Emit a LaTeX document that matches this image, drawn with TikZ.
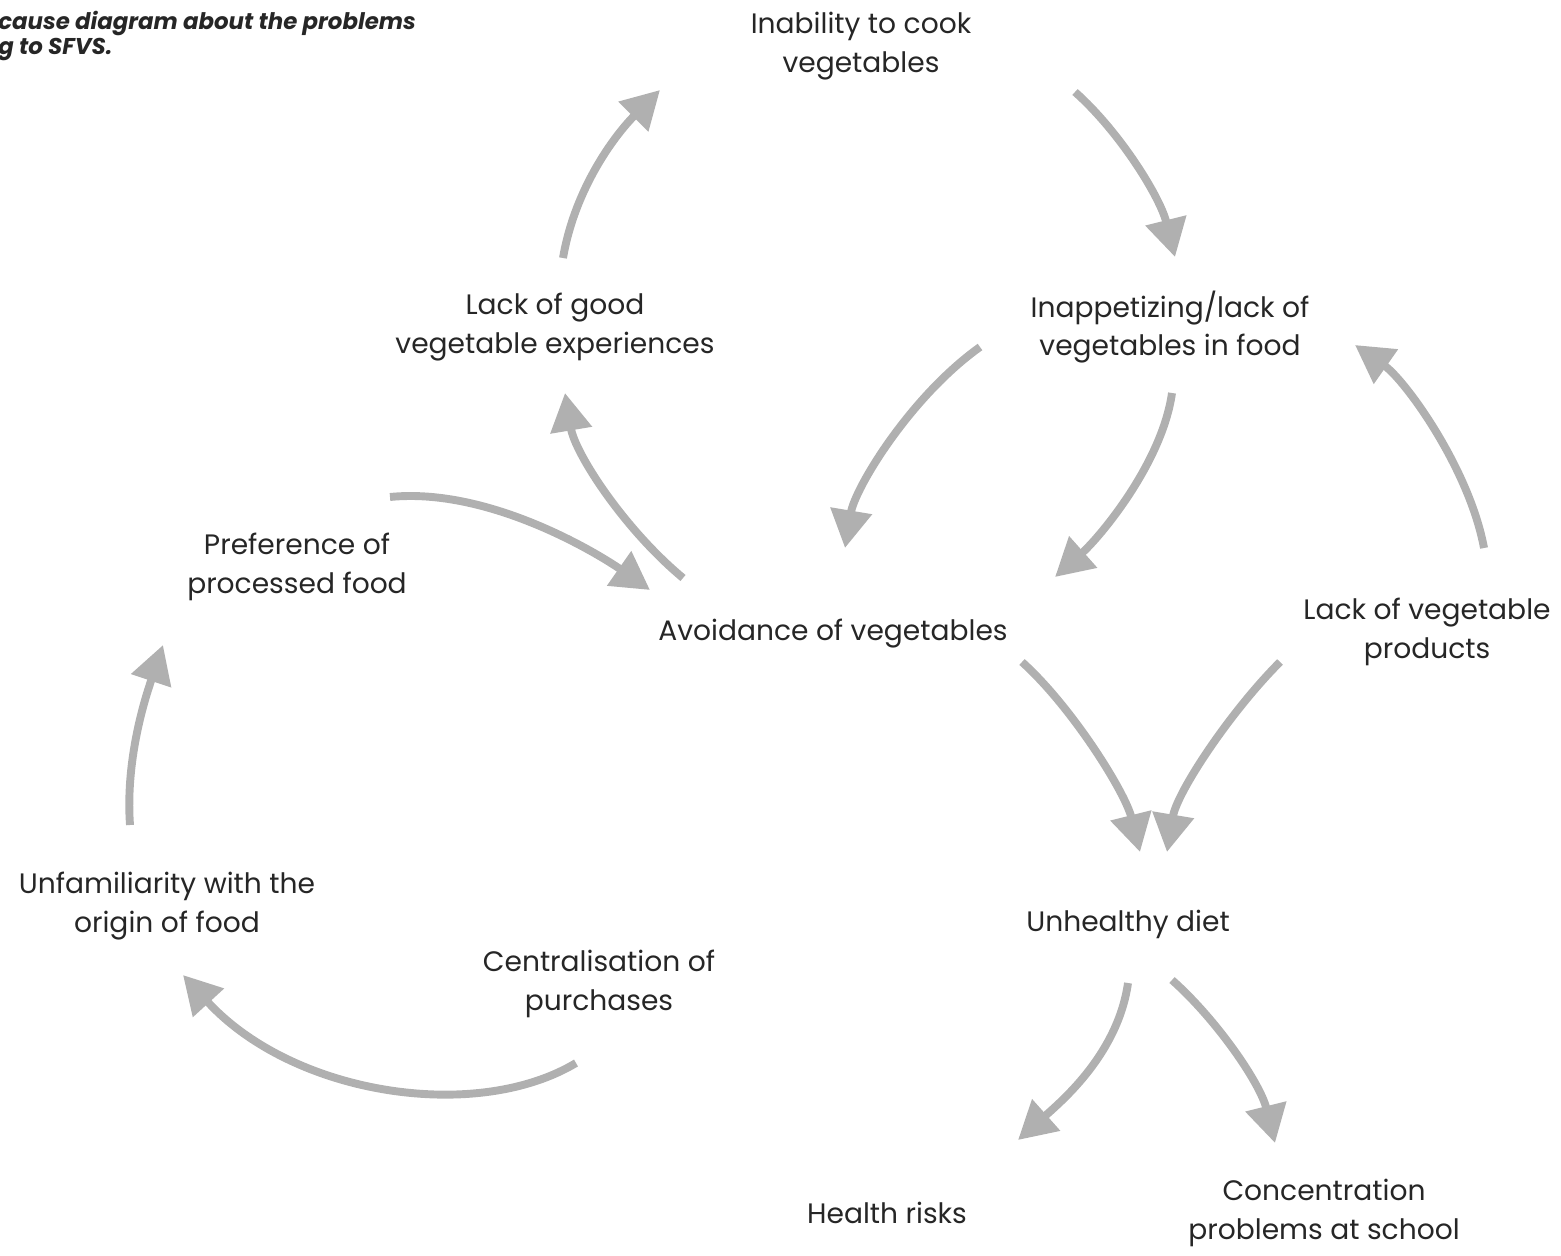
\documentclass[tikz,border=0pt]{standalone}
\usepackage{fontspec}
\setmainfont{Poppins}
\usetikzlibrary{arrows.meta}
\definecolor{arrowgray}{HTML}{B0B0B0}
\definecolor{textgray}{HTML}{262626}
\tikzset{
  cause box/.style={align=center, inner sep=0pt, text=textgray, font=\fontsize{16}{21.8}\selectfont},
  title text/.style={align=left, inner sep=0pt, anchor=west, text=textgray, font=\fontsize{13}{12.5}\selectfont\bfseries\itshape},
  cause arrow/.style={line width=4.5pt, arrowgray, -{Triangle[length=21.5pt,width=23pt]}},
}

\begin{document}
\begin{tikzpicture}[x=0.02cm, y=-0.02cm]
  \useasboundingbox (0,0) rectangle (1561,1256);
  \node[title text] (title) at (-2,36) {cause diagram about the problems\\g to SFVS.};
  \node[cause box] (inability) at (861,46) {Inability to cook\\vegetables};
  \node[cause box] (lackgood) at (555,327) {Lack of good\\vegetable experiences};
  \node[cause box] (inapp) at (1170,327) {Inappetizing/lack of\\vegetables in food};
  \node[cause box] (preference) at (297,567) {Preference of\\processed food};
  \node[cause box] (avoidance) at (833,634) {Avoidance of vegetables};
  \node[cause box] (products) at (1427,632) {Lack of vegetable\\products};
  \node[cause box] (unfamiliar) at (167,906) {Unfamiliarity with the\\origin of food};
  \node[cause box] (central) at (599,984) {Centralisation of\\purchases};
  \node[cause box] (unhealthy) at (1128,924) {Unhealthy diet};
  \node[cause box] (health) at (887,1213) {Health risks};
  \node[cause box] (concentration) at (1324,1213) {Concentration\\problems at school};

  % the cycle at the top
  \draw[cause arrow] ([shift={(8,-69)}]lackgood.center) .. controls +(12,-70) and +(-45,45) .. ([shift={(-201,44)}]inability.center);
  \draw[cause arrow] ([shift={(214,46)}]inability.center) .. controls +(45,40) and +(-15,-60) .. ([shift={(5,-70)}]inapp.center);
  \draw[cause arrow] ([shift={(-190,20)}]inapp.center) .. controls +(-70,50) and +(10,-60) .. ([shift={(12,-86)}]avoidance.center);
  \draw[cause arrow] ([shift={(2,66)}]inapp.center) .. controls +(-10,70) and +(45,-40) .. ([shift={(222,-57)}]avoidance.center);
  \draw[cause arrow] ([shift={(57,-84)}]products.center) .. controls +(-15,-80) and +(50,35) .. ([shift={(185,18)}]inapp.center);
  \draw[cause arrow] ([shift={(-150,-56)}]avoidance.center) .. controls +(-60,-50) and +(10,60) .. ([shift={(10,66)}]lackgood.center);
  \draw[cause arrow] ([shift={(93,-70)}]preference.center) .. controls +(100,-10) and +(-50,-35) .. ([shift={(-183,-44)}]avoidance.center);
  % towards the diet
  \draw[cause arrow] ([shift={(189,28)}]avoidance.center) .. controls +(50,45) and +(-15,-60) .. ([shift={(12,-72)}]unhealthy.center);
  \draw[cause arrow] ([shift={(-147,30)}]products.center) .. controls +(-50,50) and +(10,-60) .. ([shift={(39,-72)}]unhealthy.center);
  % the left side
  \draw[cause arrow] ([shift={(-37,-81)}]unfamiliar.center) .. controls +(-5,-70) and +(-15,45) .. ([shift={(-134,78)}]preference.center);
  \draw[cause arrow] ([shift={(-23,79)}]central.center) .. controls +(-100,60) and +(110,120) .. ([shift={(16,69)}]unfamiliar.center);
  % effects
  \draw[cause arrow] ([shift={(0,59)}]unhealthy.center) .. controls +(-10,70) and +(45,-40) .. ([shift={(131,-73)}]health.center);
  \draw[cause arrow] ([shift={(44,56)}]unhealthy.center) .. controls +(45,40) and +(-15,-60) .. ([shift={(-49,-70)}]concentration.center);
\end{tikzpicture}
\end{document}
